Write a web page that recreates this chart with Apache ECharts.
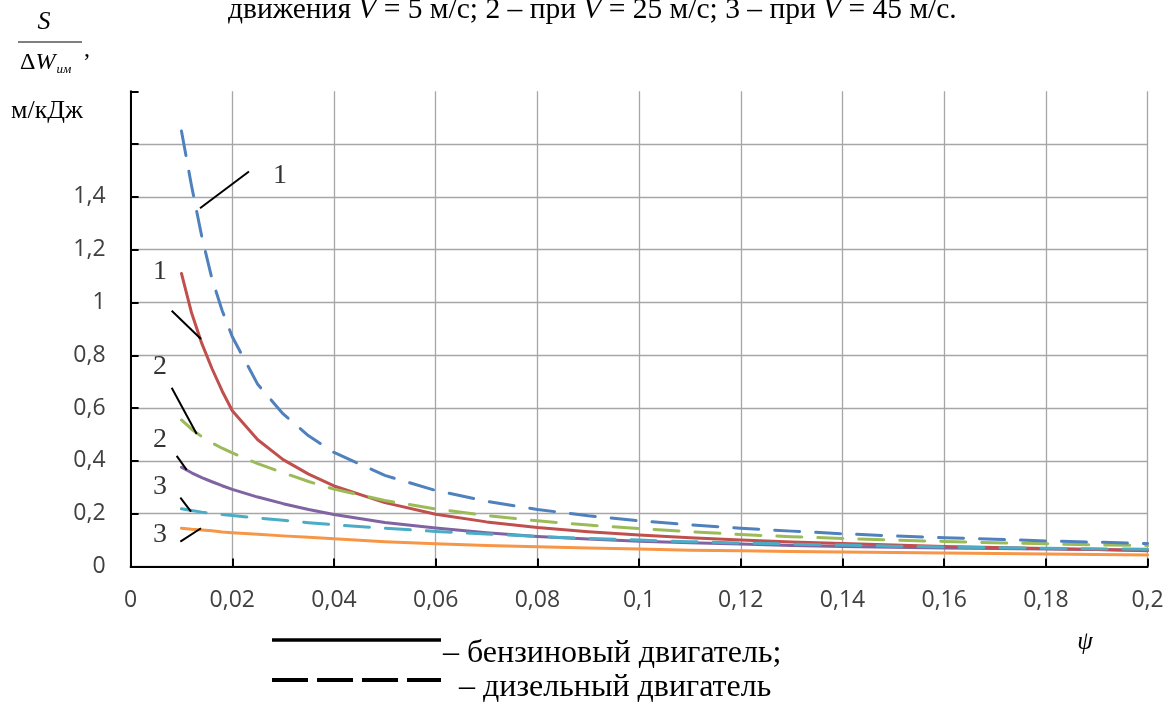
<!DOCTYPE html>
<html><head><meta charset="utf-8">
<script src="https://cdn.jsdelivr.net/npm/echarts@6/dist/echarts.min.js"></script>
<style>html,body{margin:0;padding:0;background:#fff}#c{width:1170px;height:704px}</style>
</head><body><div id="c"></div>
<script>
// ψ values (x axis)
const psi = [0.01,0.012,0.014,0.016,0.018,0.02,0.025,0.03,0.035,0.04,0.05,0.06,0.07,0.08,0.09,0.1,0.11,0.12,0.13,0.14,0.15,0.16,0.17,0.18,0.19,0.2];
// S/ΔW, м/кДж — diesel (dashed)
const dieselV5  = [1.65,1.44,1.25,1.09,0.97,0.87,0.69,0.578,0.495,0.432,0.345,0.288,0.247,0.216,0.192,0.173,0.158,0.145,0.134,0.124,0.116,0.109,0.103,0.097,0.092,0.087];
const dieselV25 = [0.555,0.52,0.492,0.468,0.448,0.43,0.39,0.355,0.322,0.293,0.25,0.218,0.193,0.173,0.157,0.144,0.132,0.121,0.113,0.106,0.1,0.095,0.09,0.086,0.082,0.079];
const dieselV45 = [0.219,0.212,0.206,0.201,0.197,0.193,0.184,0.175,0.166,0.158,0.145,0.133,0.123,0.114,0.106,0.1,0.094,0.089,0.085,0.081,0.077,0.074,0.071,0.069,0.067,0.065];
// gasoline (solid)
const petrolV5  = [1.11,0.96,0.845,0.75,0.665,0.59,0.48,0.405,0.35,0.305,0.242,0.198,0.169,0.148,0.132,0.119,0.109,0.1,0.093,0.087,0.081,0.076,0.072,0.068,0.064,0.06];
const petrolV25 = [0.376,0.355,0.337,0.321,0.306,0.292,0.263,0.238,0.216,0.197,0.167,0.146,0.128,0.114,0.104,0.096,0.09,0.085,0.08,0.076,0.073,0.07,0.068,0.066,0.064,0.062];
const petrolV45 = [0.145,0.141,0.138,0.135,0.131,0.128,0.122,0.116,0.111,0.105,0.094,0.086,0.08,0.075,0.07,0.066,0.062,0.06,0.057,0.055,0.053,0.051,0.049,0.047,0.045,0.044];
// curve number labels [ψ, value, text]
const curveLabels = [[0.0294,1.479,'1'],[0.0058,1.117,'1'],[0.0058,0.757,'2'],[0.0058,0.482,'2'],[0.0058,0.302,'3'],[0.0058,0.119,'3']];
// leader lines [[ψ1,v1],[ψ2,v2]]
const leaders = [
  [[0.01365,1.357],[0.02328,1.496]],
  [[0.00808,0.969],[0.01384,0.862]],
  [[0.00808,0.677],[0.0130,0.502]],
  [[0.00906,0.419],[0.01103,0.366]],
  [[0.00978,0.261],[0.01188,0.208]],
  [[0.00978,0.094],[0.01384,0.145]]
];
const xTicks = {min:0, max:0.2, step:0.02};
const yTicks = {min:0, max:1.8, step:0.2, lastLabel:1.4};

const comma = v => String(+v.toFixed(3)).replace('.', ',');
const pairs = arr => psi.map((x,i)=>[x,arr[i]]);
const dash = [25,16];
const mk = (name, arr, color, dashed) => ({
  name, type:'line', data:pairs(arr), showSymbol:false, symbol:'none', smooth:false,
  lineStyle:{color, width:3, type: dashed?dash:'solid', cap:'round', join:'round'}, z:2, silent:true
});
const serif = '"Liberation Serif","Times New Roman",serif';
const sans = '"Open Sans",sans-serif';
const gridCol = '#a6a6a6';

const chart = echarts.init(document.getElementById('c'), null, {renderer:'canvas'});
chart.setOption({
  animation:false,
  backgroundColor:'#fff',
  grid:{left:130.6, top:91.3, right:22.4, bottom:137.5, containLabel:false, outerBoundsMode:'none'},
  xAxis:{type:'value', min:xTicks.min, max:xTicks.max, interval:xTicks.step,
    axisLine:{onZero:false, lineStyle:{color:'#000', width:2}},
    axisTick:{inside:true, length:8, lineStyle:{color:'#000', width:2}},
    axisLabel:{margin:22, fontFamily:sans, fontSize:23, color:'#404040', formatter:v=>comma(v)},
    splitLine:{show:true, lineStyle:{color:gridCol, width:1.3}}
  },
  yAxis:{type:'value', min:yTicks.min, max:yTicks.max, interval:yTicks.step,
    axisLine:{show:true, onZero:false, lineStyle:{color:'#000', width:2}},
    axisTick:{show:true, inside:true, length:8, lineStyle:{color:'#000', width:2}},
    axisLabel:{margin:25, fontFamily:sans, fontSize:23, color:'#404040', formatter:v=> v>yTicks.lastLabel+1e-9 ? '' : comma(v)},
    splitLine:{show:true, lineStyle:{color:[gridCol,gridCol,gridCol,gridCol,gridCol,gridCol,gridCol,gridCol,gridCol,'rgba(0,0,0,0)'], width:1.3}}
  },
  series:[
    mk('бензин V=45', petrolV45, '#F79646', false),
    mk('бензин V=25', petrolV25, '#8064A2', false),
    mk('бензин V=5', petrolV5, '#C0504D', false),
    mk('дизель V=45', dieselV45, '#4BACC6', true),
    mk('дизель V=25', dieselV25, '#9BBB59', true),
    mk('дизель V=5', dieselV5, '#4F81BD', true),
    {type:'lines', coordinateSystem:'cartesian2d', silent:true, z:3,
      lineStyle:{color:'#000', width:2, opacity:1},
      data: leaders.map(s=>({coords:s}))},
    {type:'scatter', symbolSize:0, silent:true, z:4,
      data: curveLabels.map(d=>({value:[d[0],d[1]], name:d[2]})),
      label:{show:true, position:'inside', formatter:p=>p.name, fontFamily:serif, fontSize:28, color:'#000'}}
  ],
  graphic:[
    {type:'text', left:228, top:-5, style:{text:'{t|движения }{i|V}{t| = 5 м/с; 2 – при }{i|V}{t| = 25 м/с; 3 – при }{i|V}{t| = 45 м/с.}',
      rich:{t:{fontFamily:serif, fontSize:29.5, fill:'#000'}, i:{fontFamily:serif, fontSize:29.5, fontStyle:'italic', fill:'#000'}}}},
    {type:'text', x:44, y:22, style:{text:'S', fontFamily:serif, fontSize:26, fontStyle:'italic', fill:'#000', align:'center', verticalAlign:'middle'}},
    {type:'line', shape:{x1:18, y1:42, x2:82, y2:42}, style:{stroke:'#000', lineWidth:1.2}},
    {type:'text', x:20, y:63, style:{text:'{d|Δ}{w|W}{s|им}', verticalAlign:'middle',
      rich:{d:{fontFamily:serif, fontSize:24, fill:'#000'}, w:{fontFamily:serif, fontSize:24, fontStyle:'italic', fill:'#000'}, s:{fontFamily:serif, fontSize:13, fontStyle:'italic', fill:'#000', padding:[14,0,0,1]}}}},
    {type:'text', x:84, y:50, style:{text:',', fontFamily:serif, fontSize:24, fill:'#000', verticalAlign:'middle'}},
    {type:'text', x:47, y:111, style:{text:'м/кДж', fontFamily:serif, fontSize:26, fill:'#000', align:'center', verticalAlign:'middle'}},
    {type:'text', x:1085, y:642, style:{text:'ψ', fontFamily:serif, fontSize:25, fontStyle:'italic', fill:'#000', align:'center', verticalAlign:'middle'}},
    {type:'line', shape:{x1:272, y1:640, x2:441, y2:640}, style:{stroke:'#000', lineWidth:3.5}},
    {type:'text', x:443, y:654, style:{text:'– бензиновый двигатель;', fontFamily:serif, fontSize:32, fill:'#000', verticalAlign:'middle'}},
    {type:'line', shape:{x1:272, y1:680, x2:441, y2:680}, style:{stroke:'#000', lineWidth:4, lineDash:[36,9]}},
    {type:'text', x:459, y:688, style:{text:'– дизельный двигатель', fontFamily:serif, fontSize:32, fill:'#000', verticalAlign:'middle'}}
  ]
});
</script>
</body></html>
